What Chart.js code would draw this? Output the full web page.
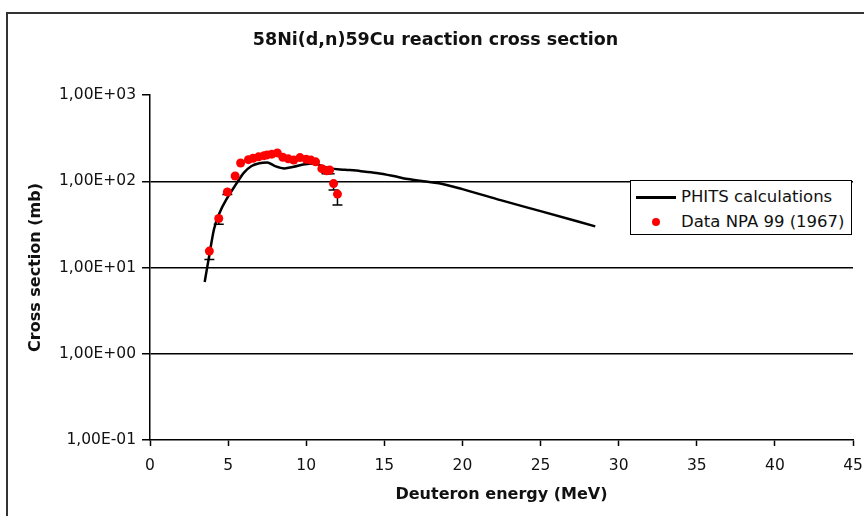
<!DOCTYPE html>
<html>
<head>
<meta charset="utf-8">
<title>58Ni(d,n)59Cu</title>
<script src="https://cdn.jsdelivr.net/npm/chart.js@4"></script>
<style>
  body { margin: 0; background: #fff; }
  #wrap { position: relative; width: 864px; height: 516px; }
  #legend {
    position: absolute; left: 630px; top: 180px; width: 222px; height: 55px;
    box-sizing: border-box; border: 1.5px solid #000; background: #fff;
    font: 16.5px "DejaVu Sans", sans-serif; color: #111;
  }
  #legend .row { position: absolute; left: 0; height: 20px; line-height: 20px; white-space: nowrap; }
  #legend .swatch-line { position: absolute; left: 5px; top: 9px; width: 40px; height: 3px; background: #000; }
  #legend .swatch-dot { position: absolute; left: 21px; top: 6px; width: 8px; height: 8px; border-radius: 50%; background: #ff0000; }
  #legend .txt { position: absolute; left: 50px; top: 0; }
</style>
</head>
<body>
<div id="wrap">
  <canvas id="xsChart" width="864" height="516"></canvas>
  <div id="legend">
    <div class="row" style="top:6px"><span class="swatch-line"></span><span class="txt">PHITS calculations</span></div>
    <div class="row" style="top:31px"><span class="swatch-dot"></span><span class="txt">Data NPA 99 (1967)</span></div>
  </div>
</div>
<script>
// PHITS calculation (MeV, mb)
const phitsEnergy = [3.5, 3.8, 4.1, 4.5, 4.9, 5.5, 6.0, 6.5, 7.0, 7.5, 8.0, 8.6, 9.2, 9.8, 10.5, 11.0, 11.5, 12.5, 13.5, 14.5, 15.5, 16.5, 17.5, 18.5, 20.0, 22.5, 25.0, 28.5];
const phitsXS     = [6.8, 14, 28, 45, 62, 92, 125, 150, 162, 165, 150, 141, 147, 156, 161, 150, 141, 136, 131, 125, 116, 106, 100, 95, 81, 60, 45, 30];

// measured points and lower error limits
const npaEnergy = [3.8, 4.4, 4.95, 5.45, 5.8, 6.3, 6.6, 6.95, 7.3, 7.5, 7.8, 8.15, 8.5, 8.85, 9.2, 9.6, 10.0, 10.3, 10.6, 11.0, 11.3, 11.5, 11.75, 12.0];
const npaXS     = [15.5, 37, 75, 115, 163, 178, 185, 192, 198, 202, 206, 213, 190, 182, 176, 188, 180, 176, 168, 140, 132, 135, 94, 71];
const npaLow    = [12.4, 31.8, 70, null, null, null, null, null, null, null, null, null, null, null, null, null, null, null, null, null, 122, 122, 79, 53];

const yTicks = [0.1, 1, 10, 100, 1000];
const yTickLabels = ['1,00E-01', '1,00E+00', '1,00E+01', '1,00E+02', '1,00E+03'];

const FONT = '"DejaVu Sans", sans-serif';

const pairs = (xs, ys) => xs.map((x, i) => ({x: x, y: ys[i]}));

// outer frame of the chart
const frame = {
  id: 'frame',
  beforeDraw(chart) {
    const ctx = chart.ctx;
    ctx.save();
    ctx.strokeStyle = '#333';
    ctx.lineWidth = 2;
    ctx.beginPath();
    ctx.moveTo(7, 516);
    ctx.lineTo(7, 13);
    ctx.lineTo(864, 13);
    ctx.stroke();
    ctx.restore();
  }
};

// minus-direction error bars
const errorBars = {
  id: 'errorBars',
  beforeDatasetsDraw(chart) {
    const xs = chart.scales.x, ys = chart.scales.y, ctx = chart.ctx;
    ctx.save();
    ctx.strokeStyle = '#000';
    ctx.lineWidth = 1.5;
    npaEnergy.forEach((e, i) => {
      if (npaLow[i] == null) return;
      const px = xs.getPixelForValue(e);
      const py = ys.getPixelForValue(npaXS[i]);
      const pl = ys.getPixelForValue(npaLow[i]);
      ctx.beginPath();
      ctx.moveTo(px, py);
      ctx.lineTo(px, pl);
      ctx.moveTo(px - 5, pl);
      ctx.lineTo(px + 5, pl);
      ctx.stroke();
    });
    ctx.restore();
  }
};

new Chart(document.getElementById('xsChart'), {
  type: 'scatter',
  data: {
    datasets: [{
      label: 'Data NPA 99 (1967)',
      data: pairs(npaEnergy, npaXS),
      backgroundColor: '#ff0000',
      borderWidth: 0,
      pointRadius: 4.5
    }, {
      label: 'PHITS calculations',
      data: pairs(phitsEnergy, phitsXS),
      showLine: true,
      borderColor: '#000',
      borderWidth: 2.5,
      pointRadius: 0,
      cubicInterpolationMode: 'monotone'
    }]
  },
  options: {
    responsive: false,
    animation: false,
    devicePixelRatio: 1,
    layout: { padding: { left: 18, right: 11, top: 12, bottom: 0 } },
    plugins: {
      legend: { display: false },
      tooltip: { enabled: false },
      title: {
        display: true,
        text: '58Ni(d,n)59Cu reaction cross section',
        color: '#111',
        font: { family: FONT, size: 17.5, weight: 'bold' },
        padding: { top: 17.5, bottom: 44.5 }
      }
    },
    scales: {
      x: {
        type: 'linear',
        min: 0,
        max: 45,
        ticks: { stepSize: 5, color: '#111', padding: 11, font: { family: FONT, size: 15.5 } },
        grid: { drawOnChartArea: false, tickLength: 6, tickColor: '#000', tickWidth: 1.5 },
        border: { color: '#000', width: 1.5 },
        title: {
          display: true,
          text: 'Deuteron energy (MeV)',
          color: '#111',
          font: { family: FONT, size: 16, weight: 'bold' },
          padding: { top: 0, bottom: 12 }
        },
        afterFit(scale) {
          scale.height = 76;
          // let the last tick label hang into the right margin
          scale.paddingRight = 0;
        }
      },
      y: {
        type: 'logarithmic',
        min: 0.1,
        max: 1000,
        afterBuildTicks(scale) { scale.ticks = yTicks.map(v => ({value: v})); },
        ticks: {
          color: '#111',
          padding: 6,
          font: { family: FONT, size: 15.5 },
          callback: (v) => yTickLabels[yTicks.indexOf(v)]
        },
        grid: {
          tickLength: 8,
          tickColor: '#000',
          tickWidth: 1.5,
          lineWidth: 1.5,
          color: (c) => (c.tick && c.tick.value > 0.1 && c.tick.value < 1000) ? '#000' : 'rgba(0,0,0,0)'
        },
        border: { color: '#000', width: 1.5 },
        title: {
          display: true,
          text: 'Cross section (mb)',
          color: '#111',
          font: { family: FONT, size: 16, weight: 'bold' },
          padding: { top: 8, bottom: 0 }
        },
        afterFit(scale) { scale.width = 132; }
      }
    }
  },
  plugins: [frame, errorBars]
});
</script>
</body>
</html>
